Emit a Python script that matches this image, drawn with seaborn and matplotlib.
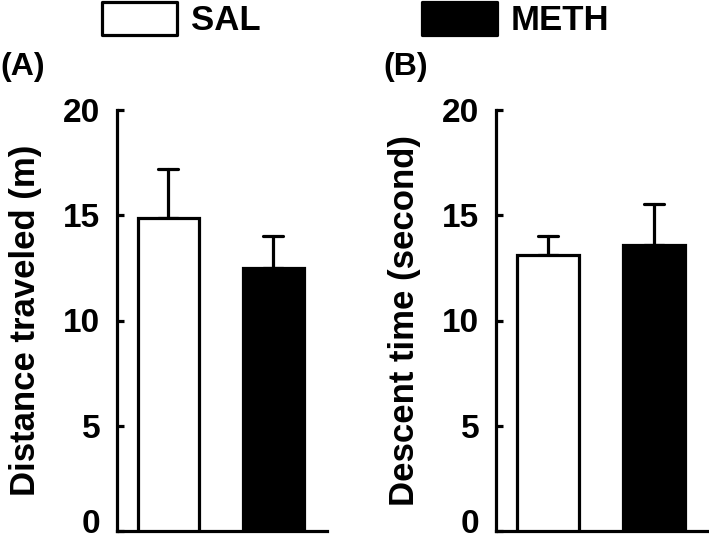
import matplotlib
matplotlib.use("Agg")
import matplotlib.pyplot as plt
import matplotlib.transforms as mtransforms
from matplotlib.markers import MarkerStyle
import seaborn as sns
import pandas as pd

# ---- data ----
groups = ["SAL", "METH"]
distance_mean = [14.85, 12.5]
distance_err = [2.35, 1.5]
descent_mean = [13.1, 13.6]
descent_err = [0.9, 1.95]
yticks = [0, 5, 10, 15, 20]
ylabels = ["Distance traveled (m)", "Descent time (second)"]
panel_tags = ["(A)", "(B)"]

sns.set_style("ticks")
plt.rcParams["font.family"] = ["Liberation Sans", "DejaVu Sans"]
plt.rcParams["font.weight"] = "bold"
for key in ["text.color", "axes.labelcolor", "xtick.color", "ytick.color",
            "axes.edgecolor"]:
    plt.rcParams[key] = "black"

fig = plt.figure(figsize=(7.09, 5.4), dpi=100)
W, H = 709, 540
axA = fig.add_axes([117 / W, 1 - 531 / H, 210 / W, 421 / H])
axB = fig.add_axes([496 / W, 1 - 531 / H, 212 / W, 421 / H])

palette = {"SAL": "white", "METH": "black"}
LW = 2.3

datasets = [(distance_mean, distance_err), (descent_mean, descent_err)]
for i, (ax, (means, errs)) in enumerate(zip([axA, axB], datasets)):
    df = pd.DataFrame({"group": groups, "value": means})
    sns.barplot(data=df, x="group", y="value", hue="group", palette=palette,
                order=groups, hue_order=groups, edgecolor="black", linewidth=LW,
                width=0.58, errorbar=None, ax=ax, legend=(i == 0), zorder=3)
    eb = ax.errorbar(x=list(range(len(groups))), y=means,
                     yerr=[[0] * len(errs), errs], fmt="none", ecolor="black",
                     elinewidth=LW, capsize=7, capthick=LW, zorder=2)
    for lc in eb[2]:
        lc.set_capstyle("round")
    for cap in eb[1]:
        cap.set_marker(MarkerStyle("_", capstyle="round"))
    ax.set_ylim(0, 20)
    ax.set_xlim(-0.49, 1.51)
    ax.set_yticks(yticks)
    ax.set_yticklabels([str(t) for t in yticks])
    ax.set_xticks([])
    ax.set_xlabel("")
    ax.set_ylabel(ylabels[i], fontsize=25, fontweight="bold", labelpad=15,
                  color="black")
    ax.tick_params(axis="y", direction="in", length=5, width=LW, labelsize=24,
                   pad=12, colors="black")
    labs = ax.get_yticklabels()
    for lab in labs:
        lab.set_fontweight("bold")
        lab.set_color("black")
    # lift the "0" label so it stays inside the figure
    shift = mtransforms.ScaledTranslation(0, 7.5 / 72, fig.dpi_scale_trans)
    labs[0].set_transform(labs[0].get_transform() + shift)
    sns.despine(ax=ax)
    for sp in ["left", "bottom"]:
        ax.spines[sp].set_linewidth(LW)
        ax.spines[sp].set_color("black")
    ax.set_facecolor("white")

handles, labels = axA.get_legend_handles_labels()
if axA.get_legend() is not None:
    axA.get_legend().remove()
leg = fig.legend(handles, labels, loc="upper left",
                 bbox_to_anchor=(102 / W, 1 - 1.5 / H), ncol=2, frameon=False,
                 prop={"size": 25, "weight": "bold"}, handlelength=2.16,
                 handleheight=1.12, handletextpad=0.4, columnspacing=4.65,
                 borderpad=0.0, borderaxespad=0.0)
for p in leg.get_patches():
    p.set_linewidth(LW)
    p.set_edgecolor("black")
    p.set_joinstyle("round")
for t in leg.get_texts():
    t.set_color("black")

fig.text(0.0, 1 - 75 / H, panel_tags[0], fontsize=23, fontweight="bold",
         va="baseline", ha="left", color="black")
fig.text(383 / W, 1 - 75 / H, panel_tags[1], fontsize=23, fontweight="bold",
         va="baseline", ha="left", color="black")

fig.savefig("out.png", dpi=100, facecolor="white")
